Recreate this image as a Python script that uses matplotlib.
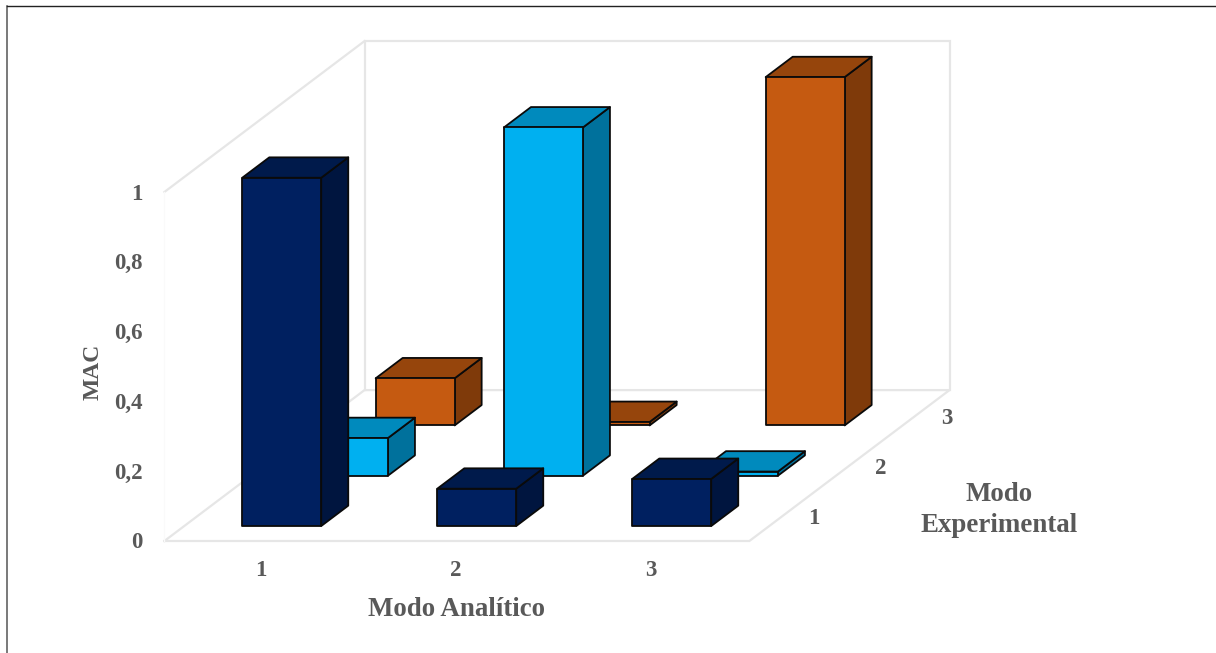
import matplotlib
matplotlib.use("Agg")
import matplotlib.pyplot as plt
from matplotlib.patches import Polygon
from matplotlib.lines import Line2D

# MAC matrix: one row per experimental mode, one column per analytical mode
analytic_modes = [1, 2, 3]
experimental_modes = [1, 2, 3]
mac_exp1 = [0.998, 0.107, 0.135]
mac_exp2 = [0.108, 0.998, 0.012]
mac_exp3 = [0.135, 0.01, 0.998]
mac_rows = [mac_exp1, mac_exp2, mac_exp3]
mac_ticks = [0, 0.2, 0.4, 0.6, 0.8, 1]
mac_tick_labels = ["0", "0,2", "0,4", "0,6", "0,8", "1"]

# front, top and side shades for each experimental mode
row_shades = [
    ("#002060", "#001A4B", "#00153F"),
    ("#00B0F0", "#008ABD", "#00719C"),
    ("#C55A11", "#96450C", "#7F3A0A"),
]

W, H = 1216, 653
PX_X = 195.0     # pixels per analytical mode
PX_Z = 349.0     # pixels per unit of MAC
X0, Y0 = 164.4, 541.0  # front-left floor corner in pixels
SHEAR_X = 66.7 / PX_X  # depth step, expressed in x units
SHEAR_Z = 50.3 / PX_Z  # depth step, expressed in MAC units
BAR = 0.405


def proj(a, e, z):
    """Oblique projection of (analytical, experimental, MAC) onto the axes."""
    return a + e * SHEAR_X, z + e * SHEAR_Z


plt.rcParams["font.family"] = ["Liberation Serif", "DejaVu Serif"]
fig = plt.figure(figsize=(W / 100, H / 100), dpi=100, facecolor="white")
ax = fig.add_axes([0, 0, 1, 1])
ax.set_xlim(-X0 / PX_X, (W - X0) / PX_X)
ax.set_ylim((Y0 - H) / PX_Z, Y0 / PX_Z)
ax.axis("off")

# outer chart frame, only the top and left edges are visible
fig.add_artist(Line2D([7.0 / W, 7.0 / W], [0, 1 - 6 / H], color="#555555", lw=1.1))
fig.add_artist(Line2D([7 / W, 1], [1 - 6.0 / H] * 2, color="#222222", lw=1.0))

# back wall, side wall and floor
grid = dict(color="#E6E6E6", lw=1.6, solid_joinstyle="miter", zorder=1)
wall_height = 1.0
outline = [
    [(0, 0, 0), (3, 0, 0), (3, 3, 0), (0, 3, 0), (0, 0, 0)],
    [(0, 3, 0), (0, 3, wall_height), (3, 3, wall_height), (3, 3, 0)],
    [(0, 0, wall_height), (0, 3, wall_height)],
]
for path in outline:
    pts = [proj(*p) for p in path]
    ax.plot([p[0] for p in pts], [p[1] for p in pts], **grid)
p0, p1 = proj(0, 0, 0), proj(0, 0, wall_height)
ax.plot([p0[0], p1[0]], [p0[1], p1[1]], color="#FAFAFA", lw=1.0, zorder=1)

# bars, painted from the back row to the front row
z = 2
margin = (1 - BAR) / 2
for ei in reversed(range(len(experimental_modes))):
    front, top, side = row_shades[ei]
    for ai in range(len(analytic_modes)):
        v = mac_rows[ei][ai]
        a0, a1 = ai + margin, ai + margin + BAR
        e0, e1 = ei + margin, ei + margin + BAR
        faces = [
            (side, [(a1, e0, 0), (a1, e1, 0), (a1, e1, v), (a1, e0, v)]),
            (top, [(a0, e0, v), (a1, e0, v), (a1, e1, v), (a0, e1, v)]),
            (front, [(a0, e0, 0), (a1, e0, 0), (a1, e0, v), (a0, e0, v)]),
        ]
        for color, corners in faces:
            ax.add_patch(Polygon([proj(*c) for c in corners], closed=True,
                                 facecolor=color, edgecolor="#0A0A0A", lw=1.3,
                                 joinstyle="round", zorder=z))
            z += 1

# tick labels and axis titles
label = dict(color="#595959", fontweight="bold", fontsize=16.5, zorder=100)
for tick, text in zip(mac_ticks, mac_tick_labels):
    x, y = proj(0, 0, tick)
    ax.annotate(text, (x, y), xytext=(-22, -2), textcoords="offset pixels",
                ha="right", va="center", **label)
for ai, text in enumerate(analytic_modes):
    x, y = proj(ai + 0.5, 0, 0)
    ax.annotate(str(text), (x, y), xytext=(-1, -30), textcoords="offset pixels",
                ha="center", va="center", **label)
for ei, text in enumerate(experimental_modes):
    x, y = proj(3, ei + 0.5, 0)
    ax.annotate(str(text), (x, y), xytext=(31, -3), textcoords="offset pixels",
                ha="center", va="center", **label)

title = dict(label)
title["fontsize"] = 19.4
ax.annotate("Modo Analítico", proj(1.5, 0, 0), xytext=(0, -69),
            textcoords="offset pixels", ha="center", va="center", **title)
ax.annotate("Modo\nExperimental", proj(3, 1.5, 0), xytext=(150, -44.5),
            textcoords="offset pixels", ha="center", va="center",
            linespacing=1.27, **title)
title["fontsize"] = 17
ax.annotate("MAC", proj(0, 0, 0.5), xytext=(-71, -5), textcoords="offset pixels",
            ha="center", va="center", rotation=90, **title)

fig.savefig("out.png", dpi=100, facecolor="white")
